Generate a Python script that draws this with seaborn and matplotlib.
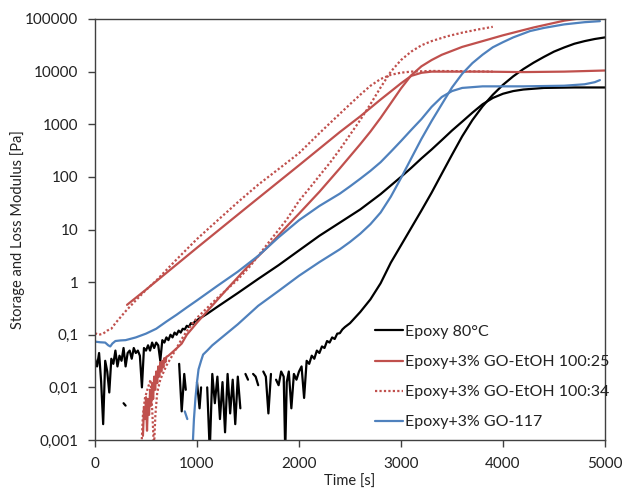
import numpy as np
import pandas as pd
import matplotlib
matplotlib.use("Agg")
import matplotlib.pyplot as plt
from matplotlib.lines import Line2D
import seaborn as sns

nan = np.nan

# ---------------- data (time in s, modulus in Pa; nan = break in the trace) ----------------
sample_labels = ["Epoxy 80°C", "Epoxy+3% GO-EtOH 100:25",
                 "Epoxy+3% GO-EtOH 100:34", "Epoxy+3% GO-117"]

x_ticks = [0, 1000, 2000, 3000, 4000, 5000]
x_tick_labels = ["0", "1000", "2000", "3000", "4000", "5000"]
y_ticks = [0.001, 0.01, 0.1, 1, 10, 100, 1000, 10000, 100000]
y_tick_labels = ["0,001", "0,01", "0,1", "1", "10", "100", "1000", "10000", "100000"]

# Epoxy 80°C - loss modulus
epoxy_loss_t = [0, 20, 40, 60, 80, 100, 120, 140, 160, 180, 200, 220, 240, 260, 280, 300,
                320, 340, 360, 380, 400, 420, 440, 460, 480, 500, 520, 540, 560, 580, 600,
                620, 640, 660, 680, 700, 720, 740, 760, 780, 800, 820, 840, 860, 880, 900,
                920, 940, 960, 980, 1000, 1100, 1200, 1400, 1600, 1800, 2000, 2200, 2400,
                2600, 2800, 3000, 3100, 3200, 3300, 3400, 3500, 3600, 3700, 3800, 3900, 4000,
                4100, 4200, 4400, 4700, 5000]
epoxy_loss_pa = [0.035, 0.025, 0.045, 0.013, 0.002, 0.032, 0.02, 0.008, 0.035, 0.028, 0.05,
                 0.025, 0.04, 0.032, 0.056, 0.025, 0.045, 0.05, 0.035, 0.056, 0.045, 0.05,
                 0.04, 0.01, 0.056, 0.05, 0.063, 0.05, 0.071, 0.056, 0.071, 0.063, 0.032,
                 0.079, 0.071, 0.089, 0.079, 0.1, 0.089, 0.11, 0.1, 0.12, 0.11, 0.13, 0.126,
                 0.148, 0.14, 0.166, 0.158, 0.18, 0.19, 0.25, 0.34, 0.62, 1.15, 2.1, 4.0, 7.6,
                 13.5, 24, 47, 100, 148, 224, 331, 500, 760, 1120, 1660, 2400, 3160, 3800,
                 4270, 4570, 4900, 5000, 5000]

# Epoxy 80°C - storage modulus
epoxy_stor_t = [280, 300, nan, 825, 850, 875, 890, nan, 1000, 1025, 1040, nan,
                1100, 1125, 1150, 1175, 1200, 1225, 1250, 1275, 1300, 1325, 1350, 1375,
                1400, 1425, nan, 1475, 1500, nan, 1550, 1575, 1600, nan, 1650, 1675, 1700,
                1725, nan, 1775, 1800, 1825, 1850, 1865, 1880, 1900, 1925, 1950, 1975, 2000,
                2025, 2050, 2075, 2100, 2125, 2150, 2175, 2200, 2225, 2250, 2275, 2300, 2325,
                2350, 2375, 2400, 2425, 2450, 2500, 2600, 2700, 2800, 2900, 3000, 3100, 3200,
                3300, 3400, 3500, 3600, 3700, 3800, 3900, 4000, 4100, 4200, 4300, 4400, 4500,
                4600, 4700, 4800, 4900, 5000]
epoxy_stor_pa = [0.005, 0.0045, nan, 0.028, 0.0035, 0.018, 0.009, nan, 0.0126, 0.004, 0.01, nan,
                 0.01, 0.0006, 0.018, 0.005, 0.016, 0.0025, 0.0126, 0.0014, 0.018, 0.0032,
                 0.014, 0.002, 0.016, 0.004, nan, 0.018, 0.014, nan, 0.018, 0.016, 0.011, nan,
                 0.02, 0.016, 0.0032, 0.018, nan, 0.014, 0.011, 0.02, 0.016, 0.0006, 0.0126,
                 0.02, 0.004, 0.018, 0.014, 0.02, 0.025, 0.0063, 0.032, 0.028, 0.04, 0.035,
                 0.05, 0.045, 0.06, 0.056, 0.076, 0.071, 0.089, 0.083, 0.105, 0.107, 0.126,
                 0.14, 0.166, 0.27, 0.47, 0.95, 2.34, 5.0, 10.7, 22.9, 50, 115, 263, 590, 1200,
                 2190, 3630, 5620, 8130, 11200, 14800, 19000, 24000, 28800, 33900, 38000,
                 41700, 44700]

# Epoxy+3% GO-EtOH 100:25 - loss modulus
eth25_loss_t = [314, 500, 1000, 1500, 2000, 2400, 2600, 2800, 2900, 3000, 3100, 3200, 3300,
                3400, 3800, 4200, 4600, 5000]
eth25_loss_pa = [0.37, 0.72, 4.5, 27.5, 166, 710, 1410, 2950, 4200, 6000, 8300, 9500, 10000,
                 10000, 10000, 9800, 10000, 10500]

# Epoxy+3% GO-EtOH 100:25 - storage modulus
eth25_stor_t = [470, 480, 490, 500, 510, 520, 530, 540, 550, 560, 570, 580, 590, 600, 610, 620,
                630, 640, 650, 660, 670, 680, 690, 700, 720, 750, 800, 850, 900, 950, 1000,
                1100, 1300, 1500, 1700, 1900, 2000, 2200, 2400, 2600, 2700, 2800, 2900, 3000,
                3100, 3200, 3300, 3400, 3600, 3800, 4000, 4300, 4600, 5000]
eth25_stor_pa = [0.0012, 0.004, 0.0025, 0.0065, 0.0015, 0.006, 0.003, 0.009, 0.0045, 0.012,
                 0.006, 0.016, 0.009, 0.02, 0.012, 0.025, 0.016, 0.03, 0.02, 0.032, 0.024,
                 0.036, 0.03, 0.038, 0.04, 0.045, 0.055, 0.068, 0.1, 0.13, 0.17, 0.28, 0.76,
                 2.0, 4.8, 12.6, 20, 52, 145, 417, 724, 1320, 2510, 4790, 8500, 12600, 16600,
                 20900, 29500, 38000, 49000, 69000, 93000, 120000]

# Epoxy+3% GO-EtOH 100:34 - loss modulus
eth34_loss_t = [0, 40, 80, 120, 160, 200, 300, 400, 500, 600, 800, 1000, 1200, 1400, 1600,
                1800, 2000, 2200, 2400, 2500, 2600, 2700, 2800, 2900, 3000, 3100, 3300, 3600,
                3900]
eth34_loss_pa = [0.107, 0.1, 0.105, 0.12, 0.13, 0.166, 0.28, 0.45, 0.71, 1.07, 2.7, 6.6, 14.8,
                 33, 71, 141, 282, 676, 1580, 2400, 3630, 5370, 7240, 8700, 9550, 10000,
                 10300, 10200, 10000]

# Epoxy+3% GO-EtOH 100:34 - storage modulus
eth34_stor_t = [455, 470, 490, 520, 545, 560, 578, 592, 610, 640, 700, 750, 800, 850, 900, 950,
                1000, 1200, 1400, 1520, 1700, 1880, 2000, 2100, 2200, 2300, 2400, 2500, 2600,
                2700, 2800, 2900, 3000, 3100, 3200, 3300, 3450, 3600, 3750, 3900]
eth34_stor_pa = [0.0007, 0.003, 0.0063, 0.01, 0.014, 0.004, 0.0007, 0.003, 0.008, 0.014, 0.026,
                 0.038, 0.056, 0.083, 0.117, 0.158, 0.21, 0.5, 1.12, 2.0, 5.6, 15.5, 35, 60,
                 105, 182, 331, 631, 1200, 2400, 5000, 10000, 16600, 24000, 31600, 38000,
                 46800, 55000, 63000, 71000]

# Epoxy+3% GO-117 - loss modulus
go117_loss_t = [0, 50, 100, 130, 150, 170, 200, 250, 300, 400, 500, 600, 700, 800, 900, 1000,
                1200, 1400, 1600, 1800, 2000, 2200, 2400, 2500, 2600, 2700, 2800, 2900, 3000,
                3100, 3200, 3300, 3400, 3500, 3600, 3800, 4200, 4600, 4800, 4900, 4950]
go117_loss_pa = [0.074, 0.072, 0.071, 0.063, 0.06, 0.068, 0.076, 0.078, 0.079, 0.089, 0.105,
                 0.13, 0.178, 0.24, 0.33, 0.45, 0.85, 1.58, 3.16, 7.1, 15, 28, 48, 66, 92, 130,
                 190, 300, 480, 780, 1250, 2140, 3300, 4270, 4900, 5250, 5250, 5400, 5750,
                 6300, 6900]

# Epoxy+3% GO-117 - storage modulus
go117_stor_t = [880, 905, nan, 955, 970, 985, 1000, 1015, 1040, 1060, 1100, 1150, 1250, 1400,
                1600, 1800, 2000, 2200, 2400, 2500, 2600, 2700, 2800, 2900, 3000, 3100, 3200,
                3300, 3400, 3500, 3600, 3700, 3800, 3900, 4000, 4100, 4265, 4400, 4600, 4800,
                4950]
go117_stor_pa = [0.0035, 0.0025, nan, 0.0006, 0.0025, 0.0063, 0.0126, 0.022, 0.032, 0.042,
                 0.05, 0.063, 0.091, 0.158, 0.355, 0.68, 1.32, 2.4, 4.2, 5.8, 8.3, 12.6, 21,
                 42, 95, 224, 525, 1150, 2400, 5000, 9100, 14500, 21000, 29000, 36300, 44700,
                 59000, 67600, 79000, 87000, 91000]

# ---------------- styling ----------------
BLACK = "#000000"
RED = "#C0504D"
BLUE = "#4F81BD"
DOTTED = (0, (1, 1))
LW = 1.6

curves = [
    (epoxy_loss_t, epoxy_loss_pa, BLACK, "-"),
    (epoxy_stor_t, epoxy_stor_pa, BLACK, "-"),
    (eth25_loss_t, eth25_loss_pa, RED, "-"),
    (eth25_stor_t, eth25_stor_pa, RED, "-"),
    (eth34_loss_t, eth34_loss_pa, RED, DOTTED),
    (eth34_stor_t, eth34_stor_pa, RED, DOTTED),
    (go117_loss_t, go117_loss_pa, BLUE, "-"),
    (go117_stor_t, go117_stor_pa, BLUE, "-"),
]


def to_frame(t, g):
    """Long table with a segment id that restarts after every nan break."""
    df = pd.DataFrame({"time": t, "modulus": g})
    df["seg"] = df["time"].isna().cumsum()
    return df.dropna()


sns.set_theme(style="white")
plt.rcParams["font.family"] = ["Lato", "DejaVu Sans"]

fig = plt.figure(figsize=(6.24, 4.92), dpi=100)
ax = fig.add_axes([95 / 624, 1 - 440 / 492, 510 / 624, 421 / 492])
ax.set_yscale("log")

for t, g, color, ls in curves:
    sns.lineplot(data=to_frame(t, g), x="time", y="modulus", units="seg",
                 estimator=None, sort=False, color=color, linestyle=ls,
                 linewidth=LW, legend=False, ax=ax)

ax.set_xlim(0, 5000)
ax.set_ylim(0.001, 100000)
ax.set_xticks(x_ticks)
ax.set_xticklabels(x_tick_labels)
ax.set_yticks(y_ticks)
ax.set_yticklabels(y_tick_labels)
ax.minorticks_off()
ax.tick_params(axis="both", which="major", direction="out", length=5, width=1,
               color="#404040", labelsize=11, labelcolor="#222222", pad=7)
ax.tick_params(axis="x", bottom=True)
ax.tick_params(axis="y", left=True)
for side in ["left", "right", "top", "bottom"]:
    ax.spines[side].set_color("#404040")
    ax.spines[side].set_linewidth(1.0)
    ax.spines[side].set_visible(True)

ax.set_xlabel("Time [s]", fontsize=10.5, color="#222222")
ax.set_ylabel("Storage and Loss Modulus [Pa]", fontsize=10.5, color="#222222")
ax.xaxis.set_label_coords(0.5, -0.0998)
ax.yaxis.set_label_coords(-0.151, 0.5)
ax.yaxis.label.set_verticalalignment("center")
ax.xaxis.label.set_verticalalignment("center")

handles = [
    Line2D([], [], color=BLACK, lw=LW),
    Line2D([], [], color=RED, lw=LW),
    Line2D([], [], color=RED, lw=LW, linestyle=DOTTED),
    Line2D([], [], color=BLUE, lw=LW),
]
ax.legend(handles, sample_labels, loc="lower left", bbox_to_anchor=(0.549, 0.025),
          frameon=False, fontsize=11.5, handlelength=1.75, handletextpad=0.12,
          labelspacing=1.0, borderpad=0, borderaxespad=0, labelcolor="#222222")

fig.savefig("out.png", dpi=100)
